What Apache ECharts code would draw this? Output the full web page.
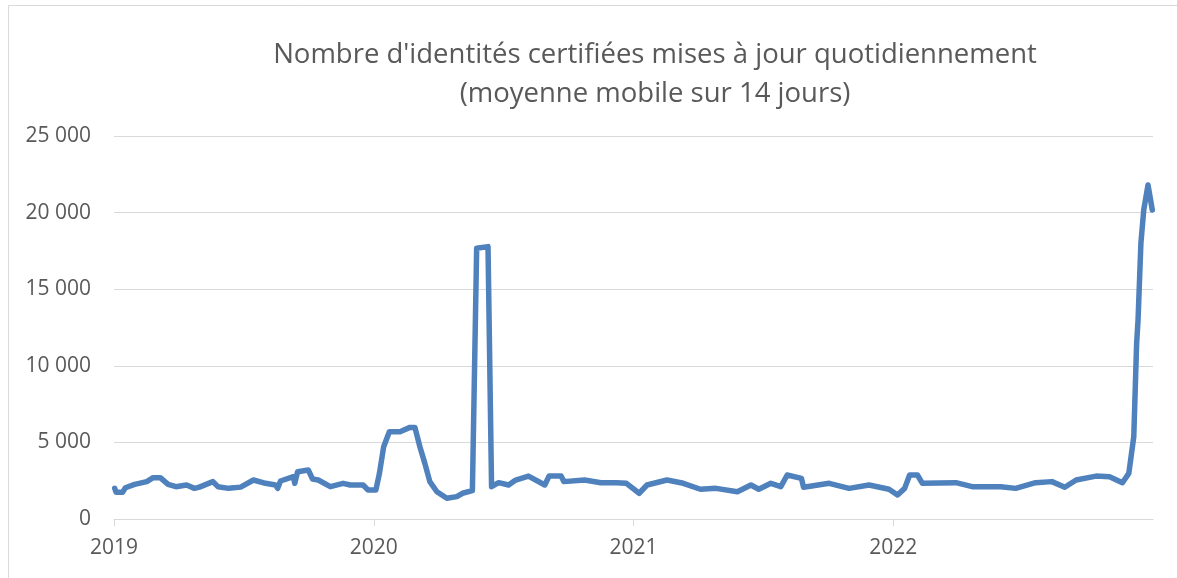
<!DOCTYPE html>
<html>
<head>
<meta charset="utf-8">
<script src="https://cdn.jsdelivr.net/npm/echarts@6/dist/echarts.min.js"></script>
<style>
html,body{margin:0;padding:0;background:#fff;}
#chart{width:1177px;height:578px;}
</style>
</head>
<body>
<div id="chart"></div>
<script>
// Nombre d'identités certifiées mises à jour quotidiennement (moyenne mobile 14 jours)
const dates = [
 '2019-01-02','2019-01-04','2019-01-13','2019-01-17','2019-01-30','2019-02-16','2019-02-25','2019-03-07',
 '2019-03-18','2019-03-29','2019-04-13','2019-04-24','2019-05-01','2019-05-20','2019-05-27','2019-06-11',
 '2019-06-28','2019-07-16','2019-08-02','2019-08-16','2019-08-19','2019-08-23','2019-09-10','2019-09-12',
 '2019-09-16','2019-10-01','2019-10-07','2019-10-15','2019-11-01','2019-11-19','2019-11-29','2019-12-17',
 '2019-12-24','2020-01-04','2020-01-09','2020-01-15','2020-01-23','2020-02-07','2020-02-21','2020-02-28','2020-03-06',
 '2020-03-13','2020-03-20','2020-03-30','2020-04-13','2020-04-27','2020-05-05','2020-05-19','2020-05-25',
 '2020-06-10','2020-06-15','2020-06-25','2020-07-09','2020-07-19','2020-08-06','2020-08-29','2020-09-04',
 '2020-09-21','2020-09-25','2020-10-24','2020-11-16','2020-12-08','2020-12-22',
 '2021-01-09','2021-01-20','2021-02-17','2021-03-12','2021-04-05','2021-04-27','2021-05-27','2021-06-15',
 '2021-06-26','2021-07-13','2021-07-27','2021-08-05','2021-08-25','2021-08-28','2021-10-03','2021-10-31',
 '2021-11-28','2021-12-26','2022-01-07','2022-01-17','2022-01-24','2022-02-04','2022-02-11','2022-03-30',
 '2022-04-22','2022-06-01','2022-06-22','2022-07-20','2022-08-12','2022-08-30','2022-09-15','2022-10-13',
 '2022-11-01','2022-11-19','2022-11-28','2022-12-05','2022-12-09','2022-12-11','2022-12-15','2022-12-19',
 '2022-12-25','2022-12-31'
];
const values = [
 2000,1740,1740,2040,2260,2440,2700,2700,
 2260,2110,2220,2000,2080,2440,2110,2000,
 2080,2545,2330,2220,2000,2480,2760,2330,
 3090,3200,2610,2545,2110,2330,2220,2220,
 1890,1890,2980,4720,5700,5700,5980,5980,4720,
 3630,2440,1780,1350,1460,1680,1850,17670,
 17780,2110,2370,2220,2545,2800,2220,2800,
 2800,2440,2545,2370,2370,2330,
 1680,2220,2545,2330,1940,2000,1780,2220,
 1940,2330,2110,2870,2650,2070,2330,2000,
 2220,1940,1570,2000,2870,2870,2330,2370,
 2110,2110,2000,2370,2440,2070,2545,2800,
 2760,2370,2980,5370,11470,12990,18000,20170,
 21800,20170
];
const yearTicks = [2019, 2020, 2021, 2022];
const yTicks = [0, 5000, 10000, 15000, 20000, 25000];

// convert a date string to a fractional year (position on the time scale)
const toYear = s => {
  const p = s.split('-').map(Number);
  const start = Date.UTC(p[0], 0, 1), end = Date.UTC(p[0] + 1, 0, 1);
  return p[0] + (Date.UTC(p[0], p[1]-1, p[2]) - start) / (end - start);
};
const seriesData = dates.map((d, i) => [toYear(d), values[i]]);

const chart = echarts.init(document.getElementById('chart'), null, {renderer: 'canvas'});
const fmt = v => { const s = String(v); return s.length > 3 ? s.slice(0, s.length-3) + ' ' + s.slice(-3) : s; };
chart.setOption({
  animation: false,
  backgroundColor: '#ffffff',
  textStyle: {fontFamily: 'Open Sans'},
  graphic: [
    {type: 'rect', shape: {x: 8.5, y: 5.5, width: 1200, height: 700}, style: {fill: 'none', stroke: '#d9d9d9', lineWidth: 1}, silent: true, z: -1},
    {type: 'text', x: 655, y: 41, style: {text: "Nombre d'identités certifiées mises à jour quotidiennement", textAlign: 'center', fill: '#595959', font: '27.5px "Open Sans"'}},
    {type: 'text', x: 655, y: 80, style: {text: '(moyenne mobile sur 14 jours)', textAlign: 'center', fill: '#595959', font: '27.5px "Open Sans"'}}
  ],
  grid: {left: 114, right: 24, top: 136, bottom: 59, containLabel: false},
  xAxis: {
    type: 'value',
    min: yearTicks[0],
    max: yearTicks[yearTicks.length-1] + 1,
    interval: 1,
    splitLine: {show: false},
    axisLine: {lineStyle: {color: '#d9d9d9', width: 1}},
    axisTick: {show: true, length: 7, lineStyle: {color: '#d9d9d9'}, customValues: yearTicks},
    axisLabel: {customValues: yearTicks, color: '#595959', fontSize: 21, margin: 19,
      formatter: v => String(v)}
  },
  yAxis: {
    type: 'value',
    min: yTicks[0], max: yTicks[yTicks.length-1], interval: 5000,
    axisLine: {show: false}, axisTick: {show: false},
    splitLine: {lineStyle: {color: '#d9d9d9', width: 1}},
    axisLabel: {color: '#595959', fontSize: 21, margin: 23, formatter: fmt}
  },
  series: [{
    type: 'line',
    data: seriesData,
    showSymbol: false,
    lineStyle: {color: '#4f81bd', width: 5.5, cap: 'round', join: 'round'},
    itemStyle: {color: '#4f81bd'}
  }]
});
</script>
</body>
</html>
